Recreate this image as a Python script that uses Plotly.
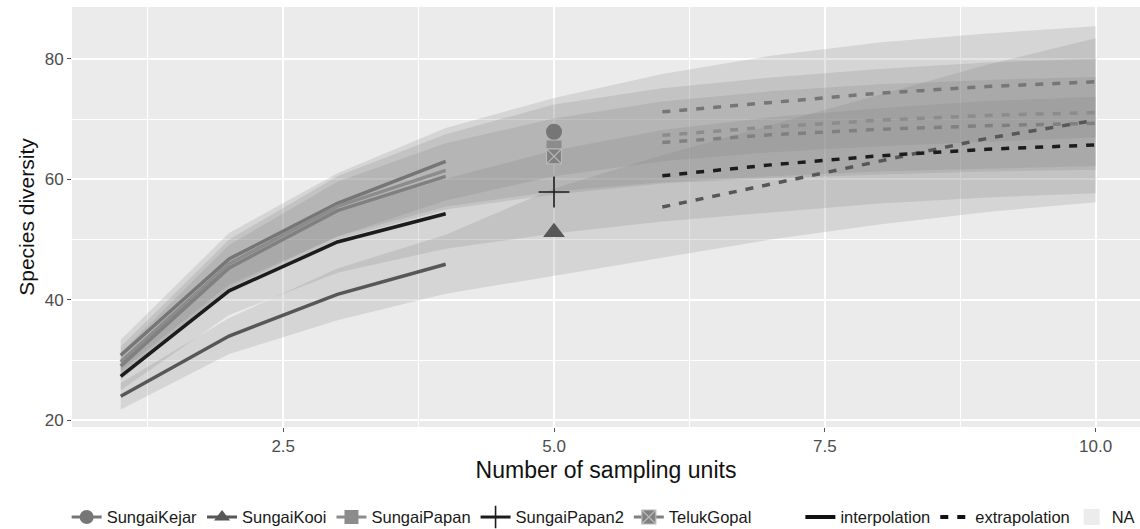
import plotly.graph_objects as go

# ---------------- data ----------------
sites = ["SungaiKejar", "SungaiKooi", "SungaiPapan", "SungaiPapan2", "TelukGopal"]
x_interp = [1, 2, 3, 4]
x_obs = [5]
x_extrap = [6, 7, 8, 9, 10]
x_all = [1, 2, 3, 4, 5, 6, 7, 8, 9, 10]

interp = {
    "SungaiKejar":  [30.8, 46.8, 56.0, 63.0],
    "SungaiKooi":   [24.0, 34.0, 40.9, 45.9],
    "SungaiPapan":  [29.7, 46.0, 55.5, 61.5],
    "SungaiPapan2": [27.3, 41.5, 49.6, 54.3],
    "TelukGopal":   [29.0, 45.3, 54.8, 60.5],
}
observed = {
    "SungaiKejar": 67.9, "SungaiKooi": 51.2, "SungaiPapan": 65.2,
    "SungaiPapan2": 57.9, "TelukGopal": 63.8,
}
extrap = {
    "SungaiKejar":  [71.2, 72.8, 74.3, 75.4, 76.2],
    "SungaiKooi":   [55.4, 59.2, 63.0, 66.8, 69.8],
    "SungaiPapan":  [67.3, 68.7, 69.8, 70.6, 71.1],
    "SungaiPapan2": [60.6, 62.4, 63.9, 65.0, 65.7],
    "TelukGopal":   [66.1, 67.4, 68.3, 68.9, 69.3],
}
lower = {
    "SungaiKejar":  [28.2, 42.5, 50.5, 56.5, 60.5, 63.0, 64.5, 65.5, 66.3, 67.0],
    "SungaiKooi":   [21.8, 31.0, 36.6, 41.0, 44.0, 47.0, 50.0, 52.5, 54.6, 56.2],
    "SungaiPapan":  [27.2, 42.0, 50.5, 55.5, 58.0, 59.5, 60.5, 61.3, 61.8, 62.2],
    "SungaiPapan2": [25.0, 37.5, 44.5, 48.5, 51.0, 53.0, 54.5, 56.0, 57.0, 57.7],
    "TelukGopal":   [26.8, 41.5, 50.0, 55.0, 57.5, 59.3, 60.2, 60.8, 61.3, 61.6],
}
upper = {
    "SungaiKejar":  [33.4, 51.1, 61.0, 68.5, 73.5, 77.5, 80.5, 82.7, 84.2, 85.4],
    "SungaiKooi":   [26.2, 37.0, 45.2, 50.8, 58.5, 64.0, 69.0, 74.0, 79.0, 83.4],
    "SungaiPapan":  [32.2, 50.0, 60.5, 67.5, 72.4, 75.1, 76.9, 78.3, 79.4, 80.0],
    "SungaiPapan2": [29.6, 45.5, 54.6, 60.1, 64.8, 68.2, 70.3, 71.8, 73.0, 73.7],
    "TelukGopal":   [31.2, 49.1, 59.6, 66.0, 70.1, 72.9, 74.6, 75.8, 76.5, 77.0],
}
x_ticks = [2.5, 5.0, 7.5, 10.0]
y_ticks = [20, 40, 60, 80]

# ---------------- styles ----------------
colors = {
    "SungaiKejar": "#767676", "SungaiKooi": "#575757", "SungaiPapan": "#8c8c8c",
    "SungaiPapan2": "#1c1c1c", "TelukGopal": "#808080",
}
symbols = {
    "SungaiKejar": "circle", "SungaiKooi": "triangle-up", "SungaiPapan": "square",
    "SungaiPapan2": "cross-thin-open", "TelukGopal": "square-x",
}
sizes = {"SungaiKejar": 16, "SungaiKooi": 19, "SungaiPapan": 15,
         "SungaiPapan2": 22, "TelukGopal": 15}
ribbon_fill = "rgba(125,125,125,0.2)"
FONT = "Liberation Sans, Arial, sans-serif"


def marker_line(s):
    sym = symbols[s]
    if sym == "cross-thin-open":
        return dict(width=1.6, color=colors[s])
    if sym == "square-x":
        return dict(width=1.2, color="#b8b8b8")
    return dict(width=0)


fig = go.Figure()

# ribbons
for s in sites:
    fig.add_trace(go.Scatter(
        x=x_all + x_all[::-1], y=upper[s] + lower[s][::-1],
        fill="toself", fillcolor=ribbon_fill, mode="lines",
        line=dict(width=0), hoverinfo="skip", showlegend=False))

# interpolation lines
for s in sites:
    fig.add_trace(go.Scatter(
        x=x_interp, y=interp[s], mode="lines",
        line=dict(color=colors[s], width=3.5), showlegend=False))

# extrapolation lines
for s in sites:
    fig.add_trace(go.Scatter(
        x=x_extrap, y=extrap[s], mode="lines",
        line=dict(color=colors[s], width=3.5, dash="8px,9px"), showlegend=False))

# observed points
for s in sites:
    fig.add_trace(go.Scatter(
        x=x_obs, y=[observed[s]], mode="markers",
        marker=dict(symbol=symbols[s], size=sizes[s], color=colors[s],
                    line=marker_line(s)),
        showlegend=False))

# legend-only entries (sites)
for s in sites:
    fig.add_trace(go.Scatter(
        x=[None], y=[None], mode="lines+markers", name=s, legend="legend",
        line=dict(color=colors[s], width=3),
        marker=dict(symbol=symbols[s], size=14 if sizes[s] < 20 else 20,
                    color=colors[s], line=marker_line(s))))

# legend-only entries (method, NA)
fig.add_trace(go.Scatter(x=[None], y=[None], mode="lines", name="interpolation",
                         legend="legend2", line=dict(color="#111111", width=4)))
fig.add_trace(go.Scatter(x=[None], y=[None], mode="lines", name="extrapolation",
                         legend="legend2", line=dict(color="#111111", width=4, dash="8px,9px")))
fig.add_trace(go.Scatter(x=[None], y=[None], mode="markers", name="NA",
                         legend="legend3",
                         marker=dict(symbol="square", size=20, color="#ececec")))

legend_common = dict(orientation="h", yanchor="middle", y=-0.215,
                     font=dict(family=FONT, size=16.5, color="#1a1a1a"),
                     bgcolor="rgba(0,0,0,0)", itemwidth=30, tracegroupgap=0)

fig.update_layout(
    width=1140, height=529,
    margin=dict(l=72, r=0, t=7, b=102, autoexpand=False),
    paper_bgcolor="white", plot_bgcolor="#ebebeb",
    font=dict(family=FONT),
    legend=dict(x=-0.005, xanchor="left", **legend_common),
    legend2=dict(x=0.682, xanchor="left", **legend_common),
    legend3=dict(x=0.936, xanchor="left", **legend_common),
    xaxis=dict(
        range=[0.55, 10.41], tickvals=x_ticks, ticktext=[f"{v:.1f}" for v in x_ticks],
        showgrid=True, gridcolor="white", gridwidth=1.6, zeroline=False,
        ticks="outside", ticklen=4, tickcolor="#555555", automargin=False,
        tickfont=dict(size=17, color="#4d4d4d", family=FONT),
        minor=dict(tickvals=[1.25, 3.75, 6.25, 8.75], showgrid=True,
                   gridcolor="white", gridwidth=0.8),
        title=dict(text="Number of sampling units", standoff=6,
                   font=dict(size=23, color="#111111", family=FONT)),
    ),
    yaxis=dict(
        range=[18.9, 88.6], tickvals=y_ticks,
        showgrid=True, gridcolor="white", gridwidth=1.6, zeroline=False,
        ticks="outside", ticklen=4, tickcolor="#555555", automargin=False,
        tickfont=dict(size=17, color="#4d4d4d", family=FONT),
        minor=dict(tickvals=[30, 50, 70], showgrid=True,
                   gridcolor="white", gridwidth=0.8),
        title=dict(text="Species diversity", standoff=4,
                   font=dict(size=21, color="#111111", family=FONT)),
    ),
)

fig.write_html("out.html",
               config={"displayModeBar": False},
               post_script="document.body.style.margin='0';document.body.style.overflow='hidden';")
